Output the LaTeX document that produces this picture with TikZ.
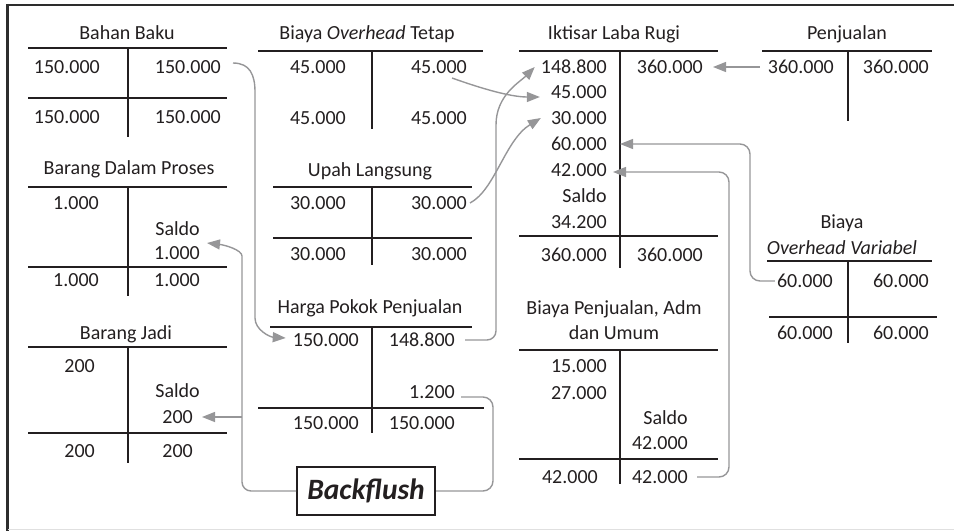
\documentclass[tikz,border=0pt]{standalone}
\usepackage{fontspec}
\setmainfont{Carlito}
\usetikzlibrary{arrows.meta}
\definecolor{ink}{RGB}{35,31,32}
\definecolor{connc}{RGB}{150,150,152}
\definecolor{framec}{RGB}{45,45,45}
\begin{document}
\begin{tikzpicture}[x=1pt,y=-1pt,
  txt/.style={inner sep=0pt, text height=12.7pt, text depth=0pt, font=\fontsize{20}{24}\selectfont, text=ink},
  num/.style={txt, anchor=east},
  ttl/.style={txt, anchor=center},
  tline/.style={line width=2pt, draw=ink},
  conn/.style={draw=connc, line width=1.4pt},
  arr/.style={conn, -{Triangle[length=13pt,width=10pt]}}]
\useasboundingbox (0,0) rectangle (954,531);
% frame
\draw[line width=2.5pt, draw=framec] (7.5,5) -- (954,5);
\draw[line width=2.5pt, draw=framec] (7.5,3.75) -- (7.5,531);
\draw[line width=1.2pt, draw=black!12] (8,529.5) -- (954,529.5);

% Bahan Baku
\node[ttl] (bbT) at (127,33) {Bahan Baku};
\draw[tline] (28,48) -- (227,48); \draw[tline] (128,48) -- (128,137); \draw[tline] (28,98) -- (227,98);
\node[num] (bb1) at (100,67) {150.000};
\node[num] (bb2) at (221,67) {150.000};
\node[num] (bb3) at (100,117) {150.000};
\node[num] (bb4) at (221,117) {150.000};

% Biaya Overhead Tetap
\node[ttl] (otT) at (367,33) {Biaya \textit{Overhead} Tetap};
\draw[tline] (258,51) -- (483,51); \draw[tline] (372,51) -- (372,129);
\node[num] (ot1) at (346,67) {45.000};
\node[num] (ot2) at (467,67) {45.000};
\node[num] (ot3) at (346,118) {45.000};
\node[num] (ot4) at (467,118) {45.000};

% Upah Langsung
\node[ttl] (ulT) at (370,170) {Upah Langsung};
\draw[tline] (273,187) -- (472,187); \draw[tline] (372,187) -- (372,265); \draw[tline] (273,238) -- (472,238);
\node[num] (ul1) at (346,203) {30.000};
\node[num] (ul2) at (467,203) {30.000};
\node[num] (ul3) at (346,254) {30.000};
\node[num] (ul4) at (467,254) {30.000};

% Harga Pokok Penjualan
\node[ttl] (hT) at (370,307) {Harga Pokok Penjualan};
\draw[tline] (270,327) -- (472,327); \draw[tline] (372,327) -- (372,433); \draw[tline] (258,408) -- (484,408);
\node[num] (h1) at (359,340) {150.000};
\node[num] (h2) at (455,340) {148.800};
\node[num] (h3) at (455,392) {1.200};
\node[num] (h4) at (359,423) {150.000};
\node[num] (h5) at (455,423) {150.000};

% Iktisar Laba Rugi
\node[ttl] (ilT) at (614,33) {Iktisar Laba Rugi};
\draw[tline] (519,51) -- (718,51); \draw[tline] (620,51) -- (620,268); \draw[tline] (519,236) -- (718,236);
\node[num] (il1) at (607,67) {148.800};
\node[num] (il2) at (607,92) {45.000};
\node[num] (il3) at (607,118) {30.000};
\node[num] (il4) at (607,144) {60.000};
\node[num] (il5) at (607,170) {42.000};
\node[num] (il6) at (607,196) {Saldo};
\node[num] (il7) at (607,222) {34.200};
\node[num] (il8) at (607,255) {360.000};
\node[num] (ilr1) at (703,67) {360.000};
\node[num] (ilr2) at (703,255) {360.000};

% Penjualan
\node[ttl] (pjT) at (847,33) {Penjualan};
\draw[tline] (762,51) -- (932,51); \draw[tline] (848,51) -- (848,121);
\node[num] (pj1) at (834,67) {360.000};
\node[num] (pj2) at (929,67) {360.000};

% Biaya Overhead Variabel
\node[ttl] (ovT1) at (842,222) {Biaya};
\node[ttl] (ovT2) at (842,248) {\textit{Overhead Variabel}};
\draw[tline] (767,261) -- (932,261); \draw[tline] (848,261) -- (848,343); \draw[tline] (769,317) -- (937,317);
\node[num] (ov1) at (833,281) {60.000};
\node[num] (ov2) at (929,281) {60.000};
\node[num] (ov3) at (833,333) {60.000};
\node[num] (ov4) at (929,333) {60.000};

% Biaya Penjualan, Adm dan Umum
\node[ttl] (bpT1) at (614,308) {Biaya Penjualan, Adm};
\node[ttl] (bpT2) at (614,333) {dan Umum};
\draw[tline] (519,350) -- (718,350); \draw[tline] (620,350) -- (620,484); \draw[tline] (519,459) -- (718,459);
\node[num] (bp1) at (607,366) {15.000};
\node[num] (bp2) at (607,393) {27.000};
\node[num] (bp3) at (688,418) {Saldo};
\node[num] (bp4) at (688,443) {42.000};
\node[num] (bp5) at (598,477) {42.000};
\node[num] (bp6) at (688,477) {42.000};

% Barang Dalam Proses
\node[ttl] (bdpT) at (129,168) {Barang Dalam Proses};
\draw[tline] (28,187) -- (227,187); \draw[tline] (128,187) -- (128,296); \draw[tline] (28,267) -- (227,267);
\node[num] (bdp1) at (99,203) {1.000};
\node[num] (bdp2) at (200,229) {Saldo};
\node[num] (bdp3) at (200,253) {1.000};
\node[num] (bdp4) at (99,280) {1.000};
\node[num] (bdp5) at (200,280) {1.000};

% Barang Jadi
\node[ttl] (bjT) at (126,333) {Barang Jadi};
\draw[tline] (28,347) -- (227,347); \draw[tline] (128,347) -- (128,463); \draw[tline] (28,433) -- (227,433);
\node[num] (bj1) at (95,366) {200};
\node[num] (bj2) at (200,391) {Saldo};
\node[num] (bj3) at (193,417) {200};
\node[num] (bj4) at (95,451) {200};
\node[num] (bj5) at (193,451) {200};

% Backflush
\node[draw=ink, line width=2pt, minimum width=138pt, minimum height=48pt, inner sep=0pt,
      text=ink, font=\fontsize{29.5}{30}\selectfont\bfseries\itshape] (bf) at (366,491) {Backflush};

% connectors
\draw[arr] ([xshift=12pt,yshift=4pt]bb2.east) .. controls (250,63) and (255,75) .. (255,92)
   -- (255,318) .. controls (255,330) and (270,337) .. ([xshift=-7pt,yshift=2pt]h1.west);
\draw[arr] ([xshift=10pt]h2.east) [rounded corners=9pt] -| (496,300) [sharp corners] -- (496,125)
   .. controls (496,95) and (520,82) .. ([xshift=-6pt]il1.west);
\draw[arr] ([xshift=3pt]ul2.east) .. controls (495,190) and (505,140) .. ([xshift=-10pt]il3.west);
\draw[arr] ([xshift=-15pt,yshift=-11pt]ot2.east) .. controls (480,88) and (510,97) .. ([xshift=-11pt,yshift=-5pt]il2.west);
\draw[arr] ([xshift=-8pt]pj1.west) -- ([xshift=10pt]ilr1.east);
\draw[arr] ([xshift=-2pt]ov1.west) [rounded corners=10pt] -| (750,144) -- ([xshift=13pt]il4.east);
\draw[arr] ([xshift=9pt]bp6.east) [rounded corners=10pt] -| (729,172) -- ([xshift=6pt,yshift=-2pt]il5.east);
\draw[arr] (bf.west) [rounded corners=9pt] -| (242,265) [sharp corners]
   .. controls (242,250) and (225,245) .. ([xshift=7pt,yshift=10pt]bdp3.east);
\coordinate (jB) at (242,417);
\draw[arr] (jB) -- ([xshift=9pt]bj3.east);
\draw[conn] (bf.east) [rounded corners=10pt] -| (493,397) -- ([xshift=6pt,yshift=-5pt]h3.east);
\end{tikzpicture}
\end{document}
